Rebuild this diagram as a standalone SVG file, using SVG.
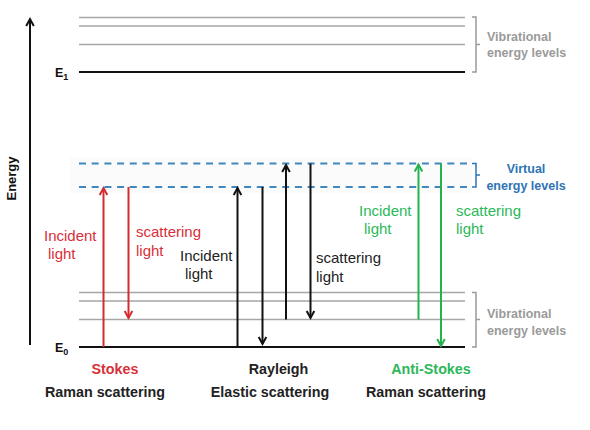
<svg xmlns="http://www.w3.org/2000/svg" width="590" height="430" viewBox="0 0 590 430">
<defs>
<style>
.lvl{stroke:#a6a6a6;stroke-width:1.5;fill:none}
.base{stroke:#111;stroke-width:2;fill:none}
.virt{stroke:#3f87bd;stroke-width:2;stroke-dasharray:7 5.7;fill:none}
.brk{fill:none;stroke:#9a9a9a;stroke-width:1.5}
.brkb{fill:none;stroke:#2f74b5;stroke-width:1.5}
.ab{stroke:#111;stroke-width:2;fill:none}
.ar{stroke:#d42a30;stroke-width:2;fill:none}
.ag{stroke:#24b24e;stroke-width:2;fill:none}
.t{font-family:"Liberation Sans",Arial,sans-serif;font-size:15px}
.tb{font-family:"Liberation Sans",Arial,sans-serif;font-size:14.3px;font-weight:bold}
.side{font-family:"Liberation Sans",Arial,sans-serif;font-size:12.5px;font-weight:bold;fill:#9a9a9a}
.sideb{font-family:"Liberation Sans",Arial,sans-serif;font-size:12.5px;font-weight:bold;fill:#2f74b5}
.red{fill:#d8303a}
.grn{fill:#2bb85a}
.blk{fill:#222}
</style>
<marker id="hb" markerUnits="userSpaceOnUse" orient="auto" refX="0" refY="0" markerWidth="10" markerHeight="10" overflow="visible"><path d="M-7,-3.8 L0,0 L-7,3.8" fill="none" stroke="#111" stroke-width="2"/></marker>
<marker id="hr" markerUnits="userSpaceOnUse" orient="auto" refX="0" refY="0" markerWidth="10" markerHeight="10" overflow="visible"><path d="M-7,-3.8 L0,0 L-7,3.8" fill="none" stroke="#d42a30" stroke-width="2"/></marker>
<marker id="hg" markerUnits="userSpaceOnUse" orient="auto" refX="0" refY="0" markerWidth="10" markerHeight="10" overflow="visible"><path d="M-7,-3.8 L0,0 L-7,3.8" fill="none" stroke="#24b24e" stroke-width="2"/></marker>
</defs>
<rect width="590" height="430" fill="#fff"/>

<g id="axis">
<line x1="30" y1="345" x2="30" y2="19" class="ab" marker-end="url(#hb)"/>
<text transform="translate(15.5,178.5) rotate(-90)" text-anchor="middle" font-family="Liberation Sans, Arial, sans-serif" font-size="13" font-weight="bold" fill="#111">Energy</text>
</g>

<g id="upper-levels">
<line x1="79" y1="17.5" x2="465" y2="17.5" class="lvl"/>
<line x1="79" y1="26" x2="465" y2="26" class="lvl"/>
<line x1="79" y1="44.5" x2="465" y2="44.5" class="lvl"/>
<line x1="79" y1="72" x2="465" y2="72" class="base"/>
<text x="55" y="77" font-family="Liberation Sans, Arial, sans-serif" font-size="12.5" font-weight="bold" fill="#111">E<tspan font-size="9" dy="3">1</tspan></text>
<path d="M472,17 H476 V72 H472 M476,44.5 H480" class="brk"/>
<text x="487" y="40.5" class="side">Vibrational</text>
<text x="487" y="57" class="side">energy levels</text>
</g>

<g id="virtual-levels">
<rect x="70" y="157" width="402" height="36" fill="#fbfbfb"/>
<line x1="79" y1="163.5" x2="470" y2="163.5" class="virt"/>
<line x1="79" y1="187" x2="470" y2="187" class="virt"/>
<path d="M472,163.5 H476 V187 H472 M476,175 H480" class="brkb"/>
<text x="526" y="172.5" text-anchor="middle" class="sideb">Virtual</text>
<text x="526" y="189.5" text-anchor="middle" class="sideb">energy levels</text>
</g>

<g id="lower-levels">
<line x1="79" y1="292.5" x2="465" y2="292.5" class="lvl"/>
<line x1="79" y1="301" x2="465" y2="301" class="lvl"/>
<line x1="79" y1="319.5" x2="465" y2="319.5" class="lvl"/>
<line x1="79" y1="347" x2="465" y2="347" class="base"/>
<text x="55" y="352" font-family="Liberation Sans, Arial, sans-serif" font-size="12.5" font-weight="bold" fill="#111">E<tspan font-size="9" dy="2.5">0</tspan></text>
<path d="M472,292.5 H476 V347 H472 M476,319.5 H480" class="brk"/>
<text x="487" y="317.5" class="side">Vibrational</text>
<text x="487" y="334.5" class="side">energy levels</text>
</g>

<g id="connectors">
<line x1="103.5" y1="347" x2="103.5" y2="188" class="ar" marker-end="url(#hr)"/>
<line x1="128.5" y1="187" x2="128.5" y2="318" class="ar" marker-end="url(#hr)"/>
<line x1="237.5" y1="347" x2="237.5" y2="188" class="ab" marker-end="url(#hb)"/>
<line x1="262.5" y1="187" x2="262.5" y2="344" class="ab" marker-end="url(#hb)"/>
<line x1="286" y1="319.5" x2="286" y2="165" class="ab" marker-end="url(#hb)"/>
<line x1="310.5" y1="163.5" x2="310.5" y2="318" class="ab" marker-end="url(#hb)"/>
<line x1="418.5" y1="319.5" x2="418.5" y2="164.5" class="ag" marker-end="url(#hg)"/>
<line x1="441" y1="163.5" x2="441" y2="346" class="ag" marker-end="url(#hg)"/>
</g>

<g id="stokes">
<text x="44" y="240.5" class="t red">Incident</text>
<text x="48" y="259" class="t red">light</text>
<text x="136" y="236.5" class="t red">scattering</text>
<text x="136" y="255.5" class="t red">light</text>
<text x="115" y="374" text-anchor="middle" class="tb red">Stokes</text>
<text x="105" y="397" text-anchor="middle" class="tb blk">Raman scattering</text>
</g>

<g id="rayleigh">
<text x="180" y="261" class="t blk">Incident</text>
<text x="185" y="279" class="t blk">light</text>
<text x="316" y="263" class="t blk">scattering</text>
<text x="316" y="281.5" class="t blk">light</text>
<text x="278.5" y="374" text-anchor="middle" class="tb blk">Rayleigh</text>
<text x="270" y="397" text-anchor="middle" class="tb blk">Elastic scattering</text>
</g>

<g id="anti-stokes">
<text x="359" y="215.5" class="t grn">Incident</text>
<text x="364" y="234" class="t grn">light</text>
<text x="456" y="215.5" class="t grn">scattering</text>
<text x="456" y="233.5" class="t grn">light</text>
<text x="431" y="374" text-anchor="middle" class="tb grn">Anti-Stokes</text>
<text x="426" y="397" text-anchor="middle" class="tb blk">Raman scattering</text>
</g>
</svg>
